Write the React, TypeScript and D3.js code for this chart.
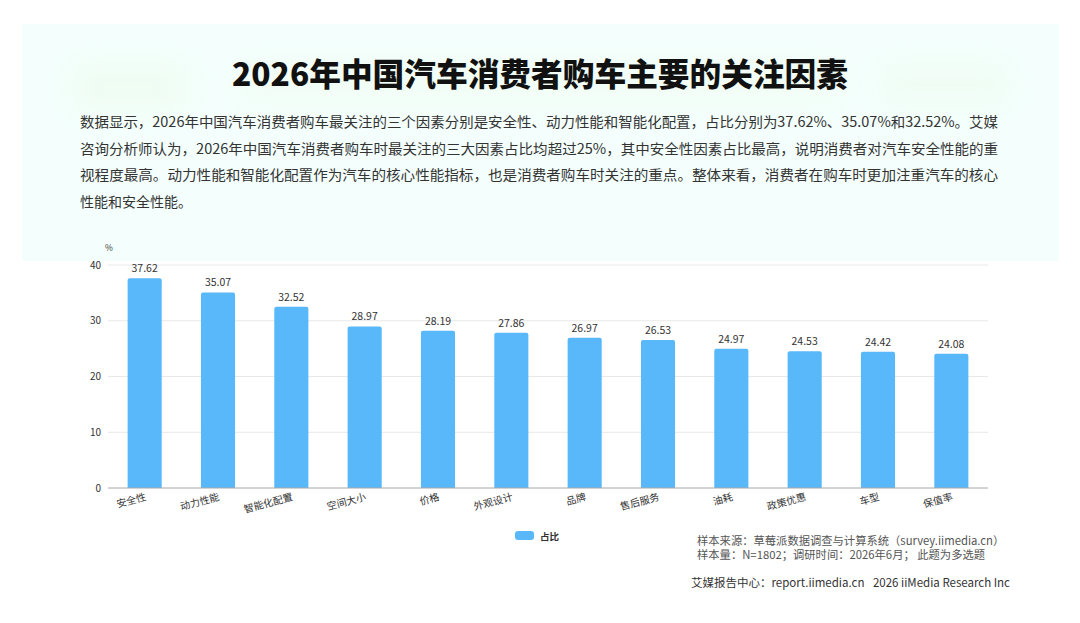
import React from "react";
import * as d3 from "d3";

const categories = ["安全性", "动力性能", "智能化配置", "空间大小", "价格", "外观设计", "品牌", "售后服务", "油耗", "政策优惠", "车型", "保值率"];
const values = [37.62, 35.07, 32.52, 28.97, 28.19, 27.86, 26.97, 26.53, 24.97, 24.53, 24.42, 24.08];
const yTicks = [0, 10, 20, 30, 40];
const seriesName = "占比";
const title = "2026年中国汽车消费者购车主要的关注因素";
const paragraph = [
  "数据显示，2026年中国汽车消费者购车最关注的三个因素分别是安全性、动力性能和智能化配置，占比分别为37.62%、35.07%和32.52%。艾媒",
  "咨询分析师认为，2026年中国汽车消费者购车时最关注的三大因素占比均超过25%，其中安全性因素占比最高，说明消费者对汽车安全性能的重",
  "视程度最高。动力性能和智能化配置作为汽车的核心性能指标，也是消费者购车时关注的重点。整体来看，消费者在购车时更加注重汽车的核心",
  "性能和安全性能。",
];
const sourceLines = [
  "样本来源：草莓派数据调查与计算系统（survey.iimedia.cn）",
  "样本量：N=1802；调研时间：2026年6月； 此题为多选题",
];
const footerLeft = "艾媒报告中心：report.iimedia.cn";
const footerRight = "2026 iiMedia Research Inc";

const W = 1080;
const H = 623;
const FONT = "'Noto Sans CJK SC', 'Noto Sans', sans-serif";

export default function App() {
  const x = d3.scaleBand<string>().domain(categories).range([108, 988]).paddingInner(0.535).paddingOuter(0.2675);
  const y = d3.scaleLinear().domain([0, 40]).range([488, 265]);
  const bw = x.bandwidth();
  const r = 2;
  const barPath = (xl: number, yt: number, w: number, yb: number) =>
    `M${xl},${yb}V${yt + r}Q${xl},${yt} ${xl + r},${yt}H${xl + w - r}Q${xl + w},${yt} ${xl + w},${yt + r}V${yb}Z`;

  return (
    <div style={{ position: "fixed", left: 0, top: 0, width: W, height: H, background: "#fff" }}>
      <svg width={W} height={H} style={{ display: "block" }}>
        <defs>
          <filter id="blur" x="-50%" y="-50%" width="200%" height="200%">
            <feGaussianBlur stdDeviation="14" />
          </filter>
        </defs>
        <rect x={0} y={0} width={W} height={H} fill="#ffffff" />
        <rect x={22} y={24} width={1037} height={237} fill="#f4fffd" />
        <g filter="url(#blur)" opacity={0.6}>
          <rect x={70} y={62} width={120} height={50} fill="#edfbec" />
          <rect x={240} y={60} width={600} height={45} fill="#effcef" />
          <rect x={880} y={62} width={130} height={45} fill="#edfbee" />
        </g>
        <text x={540} y={86} textAnchor="middle" fontFamily={FONT} fontWeight={900} fontSize={32} fill="#111" textLength={616} lengthAdjust="spacingAndGlyphs">
          {title}
        </text>
        {paragraph.map((line, i) => (
          <text
            key={i}
            x={80}
            y={127 + i * 26.7}
            fontFamily={FONT}
            fontSize={14}
            fill="#333"
            {...(i < 3 ? { textLength: 918, lengthAdjust: "spacingAndGlyphs" } : {})}
          >
            {line}
          </text>
        ))}

        {yTicks.map((t) => (
          <g key={t}>
            {t !== 0 && <line x1={108} x2={988} y1={y(t)} y2={y(t)} stroke="#e8e8e8" strokeWidth={1} />}
            <text x={101} y={y(t) + 3.5} textAnchor="end" fontFamily={FONT} fontSize={10} fill="#333">
              {t}
            </text>
          </g>
        ))}
        <text x={105} y={251} fontFamily={FONT} fontSize={8.5} fill="#333">%</text>

        {categories.map((c, i) => {
          const xl = x(c) as number;
          return (
            <g key={c}>
              <path d={barPath(xl, y(values[i]), bw, y(0))} fill="#59b8fa" />
              <text x={xl + bw / 2} y={y(values[i]) - 6} textAnchor="middle" fontFamily={FONT} fontSize={10.5} fill="#333">
                {values[i].toFixed(2)}
              </text>
              <text
                transform={`translate(${xl + bw / 2 + 2},${500}) rotate(-15)`}
                textAnchor="end"
                fontFamily={FONT}
                fontSize={10}
                fill="#333"
              >
                {c}
              </text>
            </g>
          );
        })}
        <line x1={108} x2={988} y1={y(0)} y2={y(0)} stroke="#a8a8a8" strokeWidth={1} />

        <rect x={515} y={531} width={19} height={9} rx={3} fill="#59b8fa" />
        <text x={540} y={539.5} fontFamily={FONT} fontSize={9.5} fontWeight={700} fill="#333">{seriesName}</text>

        {sourceLines.map((s, i) => (
          <text key={i} x={697} y={545 + i * 14} fontFamily={FONT} fontSize={11.3} fill="#555">
            {s}
          </text>
        ))}
        <text x={691} y={587} fontFamily={FONT} fontSize={11.5} fill="#333">{footerLeft}</text>
        <text x={1010} y={587} textAnchor="end" fontFamily={FONT} fontSize={11.5} fill="#333">{footerRight}</text>
      </svg>
    </div>
  );
}
